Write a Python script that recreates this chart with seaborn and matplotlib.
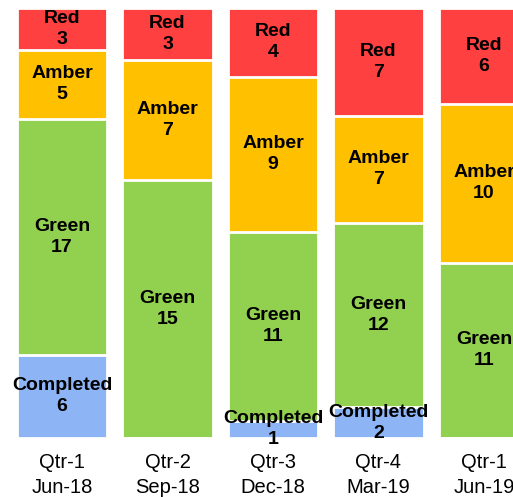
import matplotlib
matplotlib.use("Agg")
import matplotlib.pyplot as plt
import seaborn as sns
import numpy as np
import pandas as pd

categories = ["Qtr-1\nJun-18", "Qtr-2\nSep-18", "Qtr-3\nDec-18", "Qtr-4\nMar-19", "Qtr-1\nJun-19"]
completed = [6, 0, 1, 2, 0]
green = [17, 15, 11, 12, 11]
amber = [5, 7, 9, 7, 10]
red = [3, 3, 4, 7, 6]

series_names = ["Completed", "Green", "Amber", "Red"]
series_colors = ["#8DB4F5", "#92D050", "#FFC000", "#FF4040"]

sns.set_theme(style="white")
plt.rcParams['font.family'] = ['Liberation Sans', 'DejaVu Sans']

df = pd.DataFrame({"cat": categories, "Completed": completed, "Green": green,
                   "Amber": amber, "Red": red})
totals = df[series_names].sum(axis=1)
frac = df[series_names].div(totals, axis=0)
cum = frac.cumsum(axis=1)

fig = plt.figure(figsize=(5.13, 4.97), dpi=100)
ax = fig.add_axes([0, 0.1187, 1, 0.8652])

# draw from top layer down so lower layers overlay
for name, color in reversed(list(zip(series_names, series_colors))):
    sns.barplot(x=df["cat"], y=cum[name], color=color, width=0.855, saturation=1,
                edgecolor="white", linewidth=2, ax=ax, order=categories)

for i in range(len(categories)):
    bottom = 0.0
    for name in series_names:
        v = df.loc[i, name]
        f = frac.loc[i, name]
        if v > 0:
            ax.text(i, bottom + f / 2, f"{name}\n{v}", ha="center", va="center",
                    fontsize=14, fontweight="bold", color="black", linespacing=1.3,
                    clip_on=False)
        bottom += f

ax.set_xlim(-0.588, 4.275)
ax.set_ylim(0, 1)
ax.set_xlabel("")
ax.set_ylabel("")
ax.set_yticks([])
ax.tick_params(axis="x", length=0, pad=11, labelsize=14.5, colors="black")
for lab in ax.get_xticklabels():
    lab.set_linespacing(1.35)
for s in ax.spines.values():
    s.set_visible(False)

fig.savefig("out.png", dpi=100)
